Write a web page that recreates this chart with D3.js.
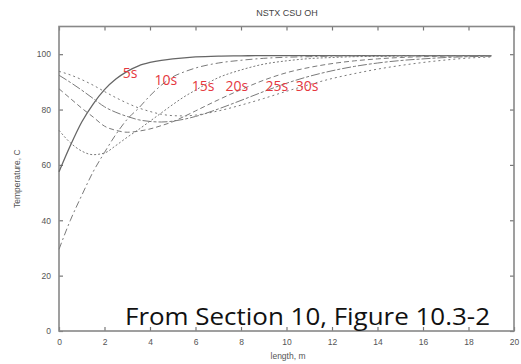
<!DOCTYPE html>
<html>
<head>
<meta charset="utf-8">
<script src="https://cdn.jsdelivr.net/npm/d3@7"></script>
<style>
  body { margin: 0; background: #fff; }
  svg { display: block; }
</style>
</head>
<body>
<div id="chart"></div>
<script>
// sample positions along the channel, m
const lengths = [0, 0.5, 1, 1.5, 2, 2.5, 3, 3.5, 4, 4.5, 5, 5.5, 6, 7, 8, 9, 10, 11, 12, 13, 14, 15, 16, 17, 18, 19];

// temperature, C, one array per time
const t5s  = [57.5, 67, 75.5, 82, 87.2, 91, 93.8, 95.8, 97, 97.8, 98.3, 98.7, 99, 99.3, 99.4, 99.5, 99.5, 99.5, 99.5, 99.5, 99.5, 99.5, 99.5, 99.5, 99.5, 99.5];
const t10s = [29.5, 40, 49, 57.5, 64.5, 71, 76.5, 80.5, 85, 88.8, 91.8, 93.6, 95, 96.8, 97.8, 98.5, 98.9, 99.1, 99.3, 99.4, 99.4, 99.5, 99.5, 99.5, 99.5, 99.5];
const t15s = [72.5, 68, 65, 63.7, 64.3, 67, 70, 72.8, 75.8, 78.8, 81.8, 84.6, 87, 91.5, 94.3, 96.4, 97.6, 98.4, 98.8, 99.1, 99.2, 99.3, 99.4, 99.4, 99.4, 99.4];
const t20s = [87.5, 84, 80.5, 77.3, 74, 72.5, 71.8, 72.2, 73, 74.2, 75.6, 77.5, 79.5, 83.5, 87.2, 90.6, 93.3, 95.2, 96.6, 97.6, 98.3, 98.8, 99.1, 99.3, 99.4, 99.4];
const t25s = [92.4, 89.8, 87, 84, 81, 79, 77.5, 76.3, 75.7, 75.5, 75.8, 76.5, 77.5, 80.2, 83.3, 86.5, 89.5, 92, 94, 95.6, 96.8, 97.7, 98.3, 98.8, 99.1, 99.3];
const t30s = [93.8, 92.5, 90.8, 88.8, 86.5, 84.3, 82.3, 80.6, 79.3, 78.3, 77.8, 77.7, 78, 79.5, 81.6, 84, 86.6, 89, 91.2, 93, 94.6, 95.9, 97, 97.9, 98.6, 99];

const seriesNames = ['5s', '10s', '15s', '20s', '25s', '30s'];
const seriesValues = [t5s, t10s, t15s, t20s, t25s, t30s];
const dashes = [null, '7,3,2,3', '2,2', '5,3', '9,2,3,2', '2,3'];

// where the red time labels sit (length, temperature)
const labelX = [3.12, 4.7, 6.33, 7.82, 9.58, 10.9];
const labelY = [93.1, 90.6, 88.4, 88.4, 88.4, 88.4];

const xTicks = [0, 2, 4, 6, 8, 10, 12, 14, 16, 18, 20];
const yTicks = [0, 20, 40, 60, 80, 100];

const W = 521, H = 364;
const plotLeft = 59, plotRight = 514, plotTop = 26.5, plotBottom = 331;

const svg = d3.select('#chart').append('svg')
    .attr('width', W)
    .attr('height', H);

const x = d3.scaleLinear().domain([0, 20]).range([plotLeft, plotRight]);
const y = d3.scaleLinear().domain([0, 110]).range([plotBottom, plotTop]);

const tickFont = 'Liberation Sans, Arial, sans-serif';

// gnuplot style axes: ticks pointing inward on all sides
const axisBottom = svg.append('g')
    .attr('transform', `translate(0,${plotBottom})`)
    .call(d3.axisBottom(x).tickValues(xTicks).tickSize(-4).tickPadding(8));
const axisTop = svg.append('g')
    .attr('transform', `translate(0,${plotTop})`)
    .call(d3.axisTop(x).tickValues(xTicks).tickSize(-4).tickFormat(''));
const axisLeft = svg.append('g')
    .attr('transform', `translate(${plotLeft},0)`)
    .call(d3.axisLeft(y).tickValues(yTicks).tickSize(-4).tickPadding(8));
const axisRight = svg.append('g')
    .attr('transform', `translate(${plotRight},0)`)
    .call(d3.axisRight(y).tickValues(yTicks).tickSize(-4).tickFormat(''));

[axisBottom, axisTop, axisLeft, axisRight].forEach(a => {
    a.select('.domain').remove();
    a.selectAll('.tick line').attr('stroke', '#777').attr('stroke-width', 1.2);
    a.selectAll('.tick text')
        .attr('fill', '#555')
        .style('font-family', tickFont)
        .style('font-size', '8.5px');
});

svg.append('rect')
    .attr('x', plotLeft)
    .attr('y', plotTop)
    .attr('width', plotRight - plotLeft)
    .attr('height', plotBottom - plotTop)
    .attr('fill', 'none')
    .attr('stroke', '#888')
    .attr('stroke-width', 1.6);

const line = d3.line()
    .x((d, i) => x(lengths[i]))
    .y(d => y(d))
    .curve(d3.curveMonotoneX);

svg.append('g').selectAll('path')
    .data(seriesValues)
    .join('path')
    .attr('d', d => line(d))
    .attr('fill', 'none')
    .attr('stroke', (d, i) => i === 0 ? '#666' : '#7a7a7a')
    .attr('stroke-width', (d, i) => i === 0 ? 1.3 : 1)
    .attr('stroke-dasharray', (d, i) => dashes[i]);

svg.append('g').selectAll('text')
    .data(seriesNames)
    .join('text')
    .attr('x', (d, i) => x(labelX[i]))
    .attr('y', (d, i) => y(labelY[i]))
    .attr('dy', '0.35em')
    .attr('text-anchor', 'middle')
    .attr('fill', '#e5383e')
    .style('font-family', 'Open Sans, sans-serif')
    .style('font-size', '14px')
    .text(d => d);

svg.append('text')
    .attr('x', 287)
    .attr('y', 16)
    .attr('text-anchor', 'middle')
    .attr('fill', '#444')
    .style('font-family', tickFont)
    .style('font-size', '9px')
    .text('NSTX CSU OH');

svg.append('text')
    .attr('transform', `translate(20,${(plotTop + plotBottom) / 2}) rotate(-90)`)
    .attr('text-anchor', 'middle')
    .attr('fill', '#555')
    .style('font-family', tickFont)
    .style('font-size', '8.5px')
    .text('Temperature, C');

svg.append('text')
    .attr('x', 288)
    .attr('y', 359)
    .attr('text-anchor', 'middle')
    .attr('fill', '#555')
    .style('font-family', tickFont)
    .style('font-size', '8.5px')
    .text('length, m');

svg.append('text')
    .attr('x', 125)
    .attr('y', 325)
    .attr('fill', '#111')
    .attr('textLength', 365)
    .attr('lengthAdjust', 'spacingAndGlyphs')
    .style('font-family', 'Open Sans, sans-serif')
    .style('font-size', '23px')
    .text('From Section 10, Figure 10.3-2');
</script>
</body>
</html>
